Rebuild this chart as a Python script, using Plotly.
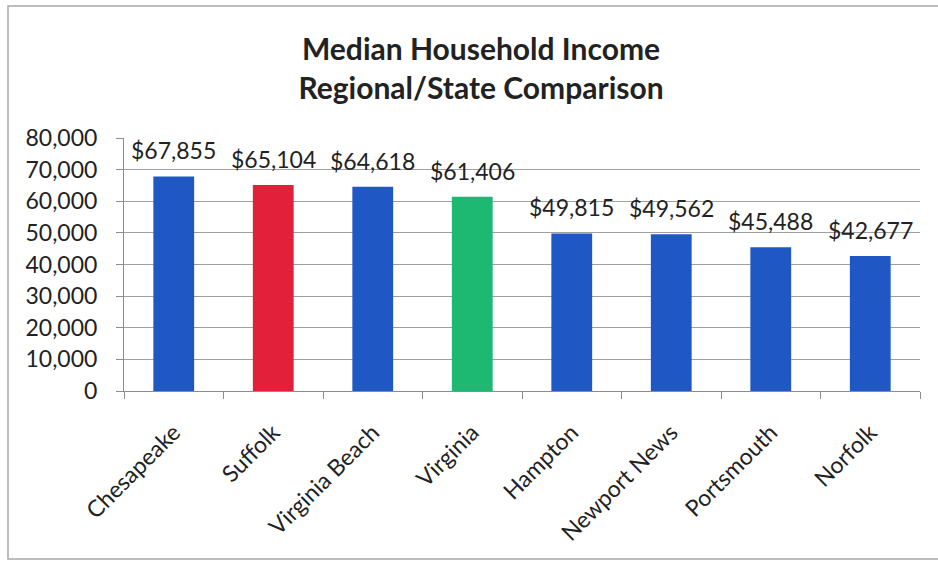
import plotly.graph_objects as go

# Median household income by locality
localities = ["Chesapeake", "Suffolk", "Virginia Beach", "Virginia",
              "Hampton", "Newport News", "Portsmouth", "Norfolk"]
median_income = [67855, 65104, 64618, 61406, 49815, 49562, 45488, 42677]
bar_colors = ["#1f58c4", "#e3203a", "#1f58c4", "#1db872",
              "#1f58c4", "#1f58c4", "#1f58c4", "#1f58c4"]
y_ticks = [0, 10000, 20000, 30000, 40000, 50000, 60000, 70000, 80000]

labels = [f"${v:,}" for v in median_income]

W, H = 938, 562
L, R, T, B = 124, 18, 138, 171

fig = go.Figure(go.Bar(
    x=localities,
    y=median_income,
    marker=dict(color=bar_colors, line=dict(width=0)),
    width=0.41,
    hovertemplate="%{x}: $%{y:,}<extra></extra>",
))

# value labels above each bar
for name, val, lab in zip(localities, median_income, labels):
    fig.add_annotation(
        x=name, y=val, text=lab, showarrow=False,
        yanchor="bottom", yshift=10,
        font=dict(family="Lato", size=23, color="#222222"),
    )

# chart frame drawn in paper coordinates relative to the plot area
pw, ph = W - L - R, H - T - B
def px_x(x): return (x - L) / pw
def px_y(y): return (H - B - y) / ph

fig.add_shape(type="rect", xref="paper", yref="paper",
              x0=px_x(8), x1=px_x(945), y0=px_y(559), y1=px_y(6),
              line=dict(color="#a8a8a8", width=1.5), layer="below")

fig.update_layout(
    width=W, height=H,
    margin=dict(l=L, r=R, t=T, b=B),
    paper_bgcolor="white", plot_bgcolor="white",
    showlegend=False,
    font=dict(family="Lato", color="#222222"),
    title=dict(
        text="<b>Median Household Income<br>Regional/State Comparison</b>",
        x=481 / W, xref="container", xanchor="center",
        y=1 - 60 / H, yref="container", yanchor="middle",
        font=dict(family="Lato", size=30, color="#222222"),
    ),
    xaxis=dict(
        type="category",
        tickangle=-45,
        ticks="outside", tickson="boundaries", ticklen=7,
        tickcolor="#8c8c8c",
        showline=True, linecolor="#8c8c8c", linewidth=1,
        showgrid=False,
        tickfont=dict(family="Lato", size=23, color="#222222"),
        ticklabelstandoff=18,
    ),
    yaxis=dict(
        range=[0, 80000],
        tickvals=y_ticks,
        tickformat=",d",
        ticks="outside", ticklen=7, tickcolor="#8c8c8c",
        showline=True, linecolor="#8c8c8c", linewidth=1,
        showgrid=True, gridcolor="#a0a0a0", gridwidth=1,
        zeroline=False,
        tickfont=dict(family="Lato", size=23, color="#222222"),
        ticklabelstandoff=14,
    ),
)

fig.write_html("out.html")
